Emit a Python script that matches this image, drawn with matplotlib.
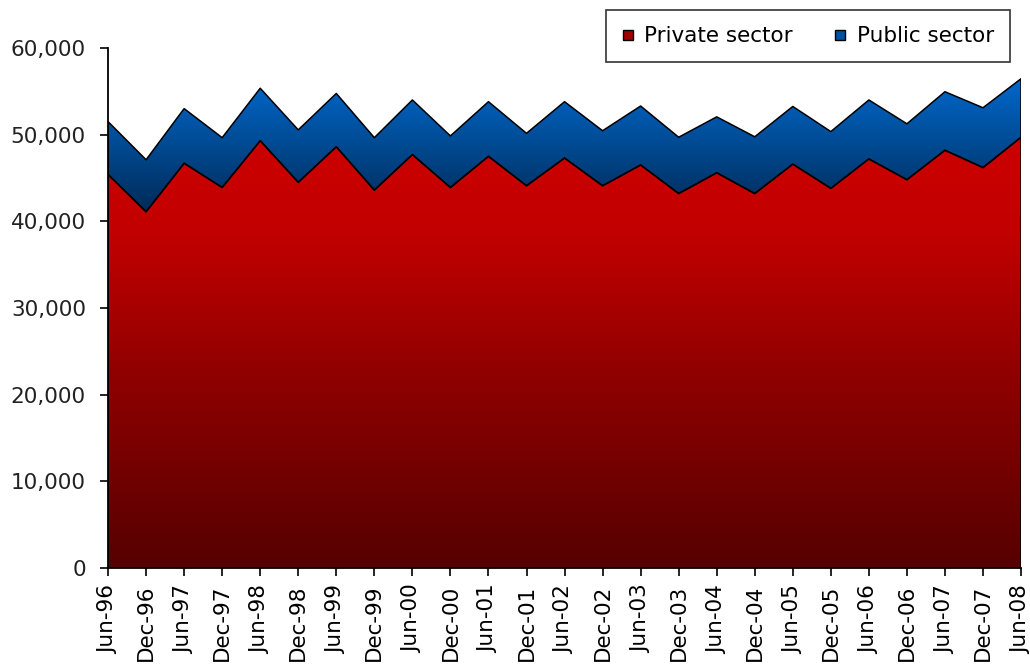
import numpy as np
import matplotlib
matplotlib.use("Agg")
import matplotlib.pyplot as plt
from matplotlib.colors import LinearSegmentedColormap
from matplotlib.lines import Line2D
from matplotlib.ticker import FuncFormatter

periods = ["Jun-96", "Dec-96", "Jun-97", "Dec-97", "Jun-98", "Dec-98", "Jun-99",
           "Dec-99", "Jun-00", "Dec-00", "Jun-01", "Dec-01", "Jun-02", "Dec-02",
           "Jun-03", "Dec-03", "Jun-04", "Dec-04", "Jun-05", "Dec-05", "Jun-06",
           "Dec-06", "Jun-07", "Dec-07", "Jun-08"]

private_sector = [45400, 41100, 46700, 43900, 49300, 44500, 48600, 43600, 47700,
                  43900, 47500, 44100, 47300, 44100, 46500, 43200, 45600, 43200,
                  46600, 43800, 47200, 44800, 48200, 46200, 49700]

public_sector = [6100, 6000, 6300, 5750, 6050, 6050, 6150, 6050, 6300,
                 5950, 6300, 6050, 6500, 6350, 6800, 6500, 6450, 6550,
                 6650, 6550, 6800, 6450, 6750, 6900, 6750]

plt.rcParams["font.family"] = ["DejaVu Sans"]

x = np.arange(len(periods))
private = np.array(private_sector, dtype=float)
total = private + np.array(public_sector, dtype=float)

fig = plt.figure(figsize=(10.30, 6.66), dpi=100)
ax = fig.add_axes([0.1049, 0.1471, 0.8864, 0.7809])
ax.set_xlim(0, len(periods) - 1)
ax.set_ylim(0, 60000)


def gradient_band(lower, upper, stops):
    poly = ax.fill_between(x, lower, upper, facecolor="none",
                           edgecolor="black", linewidth=1.1, zorder=3)
    cmap = LinearSegmentedColormap.from_list("band", stops)
    grad = np.linspace(0, 1, 256).reshape(-1, 1)
    ymin, ymax = np.min(lower), np.max(upper)
    im = ax.imshow(grad, cmap=cmap, aspect="auto", origin="lower",
                   extent=[x[0], x[-1], ymin, ymax], zorder=2,
                   interpolation="bilinear")
    im.set_clip_path(poly.get_paths()[0], transform=ax.transData)
    return poly


# shaded fills: dark at the base, bright at the crest
gradient_band(np.zeros_like(private), private,
              [(0.0, "#560000"), (0.45, "#900000"), (0.78, "#C20000"), (1.0, "#CC0000")])
gradient_band(private, total,
              [(0.0, "#002A58"), (0.5, "#004A92"), (1.0, "#0068CC")])

ax.set_xticks(x)
ax.set_xticklabels(periods, rotation=90, fontsize=15.5)
ax.set_yticks(np.arange(0, 60001, 10000))
ax.yaxis.set_major_formatter(FuncFormatter(lambda v, p: f"{int(v):,}"))
ax.tick_params(axis="y", labelsize=15.5, length=6, width=1.2, pad=10, colors="black")
ax.tick_params(axis="x", length=6, width=1.2, pad=6)
for lbl in ax.get_yticklabels():
    lbl.set_color("#222222")

for side in ("top", "right"):
    ax.spines[side].set_visible(False)
for side in ("left", "bottom"):
    ax.spines[side].set_linewidth(1.3)
    ax.spines[side].set_color("black")

handles = [
    Line2D([], [], marker="s", linestyle="none", markersize=7,
           markerfacecolor="#A00000", markeredgecolor="black", markeredgewidth=1),
    Line2D([], [], marker="s", linestyle="none", markersize=7,
           markerfacecolor="#0050A0", markeredgecolor="black", markeredgewidth=1),
]
leg = fig.legend(handles, ["Private sector", "Public sector"], ncol=2,
                 loc="upper right", bbox_to_anchor=(0.9806, 0.985),
                 fontsize=15.5, frameon=True, fancybox=False,
                 handlelength=0.6, handletextpad=0.45, columnspacing=1.9,
                 borderpad=0.75, borderaxespad=0)
leg.get_frame().set_edgecolor("black")
leg.get_frame().set_linewidth(1.2)

fig.savefig("out.png", dpi=100)
